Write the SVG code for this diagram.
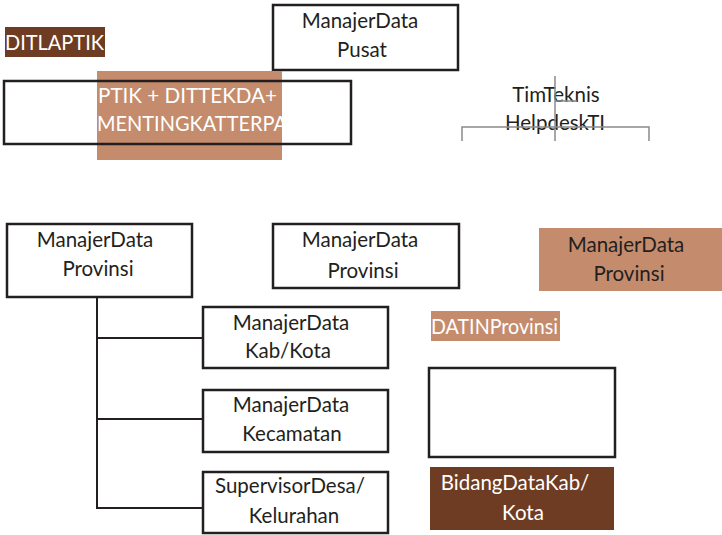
<svg xmlns="http://www.w3.org/2000/svg" width="722" height="535" viewBox="0 0 722 535">
<style>
.t{font-family:Lato,"Open Sans","DejaVu Sans",sans-serif;font-size:20.5px;fill:#231F20;text-anchor:middle}
.w{fill:#FFFFFF}
.box{fill:#FFFFFF;stroke:#231F20;stroke-width:2.5}
.tan{fill:#C48C6C}
.brown{fill:#6E3C22}
.conn{fill:none;stroke:#231F20;stroke-width:2}
.grey{fill:none;stroke:#8A8A8A;stroke-width:1.5}
</style>
<defs>
<clipPath id="tanclip"><rect x="97" y="71" width="185" height="89"/></clipPath>
</defs>
<rect width="722" height="535" fill="#FFFFFF"/>
<g id="ditlaptik">
<rect class="brown" x="5" y="27" width="100" height="30"/>
<text class="t w" x="5" y="50" style="text-anchor:start" textLength="99" lengthAdjust="spacingAndGlyphs">DITLAPTIK</text>
</g>
<g id="pusat">
<rect class="box" x="273" y="5" width="185" height="65"/>
<text class="t" x="360" y="28">ManajerData</text>
<text class="t" x="362" y="57">Pusat</text>
</g>
<g id="gabungan">
<rect class="tan" x="97" y="71" width="185" height="89"/>
<rect class="box" x="4" y="81" width="347" height="63" style="fill:none"/>
<g clip-path="url(#tanclip)">
<text class="t w" x="98" y="103" style="text-anchor:start" textLength="179" lengthAdjust="spacingAndGlyphs">PTIK + DITTEKDA+</text>
<text class="t w" x="97" y="131" style="text-anchor:start" textLength="190" lengthAdjust="spacingAndGlyphs">MENTINGKATTERPA</text>
</g>
</g>
<g id="timteknis">
<text class="t" x="556" y="102">TimTeknis</text>
<text class="t" x="555" y="130">HelpdeskTI</text>
<path class="grey" d="M555,76 V141 M462,141 V127 H649 V141 M555,101 H577"/>
</g>
<g id="connectors">
<path class="conn" d="M97,297 V508 H203 M97,338 H203 M97,419 H203"/>
</g>
<g id="provinsi1">
<rect class="box" x="7" y="224" width="185" height="73"/>
<text class="t" x="95" y="247">ManajerData</text>
<text class="t" x="98" y="276">Provinsi</text>
</g>
<g id="provinsi2">
<rect class="box" x="273" y="224" width="186" height="64"/>
<text class="t" x="360" y="247">ManajerData</text>
<text class="t" x="363" y="278">Provinsi</text>
</g>
<g id="provinsi3">
<rect class="tan" x="539" y="228" width="183" height="63"/>
<text class="t" x="626" y="252">ManajerData</text>
<text class="t" x="629" y="281">Provinsi</text>
</g>
<g id="kabkota">
<rect class="box" x="203" y="307" width="185" height="61"/>
<text class="t" x="291" y="330">ManajerData</text>
<text class="t" x="288" y="358">Kab/Kota</text>
</g>
<g id="kecamatan">
<rect class="box" x="203" y="390" width="185" height="62"/>
<text class="t" x="291" y="412">ManajerData</text>
<text class="t" x="292" y="441">Kecamatan</text>
</g>
<g id="supervisor">
<rect class="box" x="203" y="472" width="185" height="61"/>
<text class="t" x="290" y="493">SupervisorDesa/</text>
<text class="t" x="294" y="523">Kelurahan</text>
</g>
<g id="datin">
<rect class="tan" x="431" y="311" width="129" height="30"/>
<text class="t w" x="431" y="334" style="text-anchor:start" textLength="127" lengthAdjust="spacingAndGlyphs">DATINProvinsi</text>
</g>
<g id="kosong">
<rect class="box" x="429" y="368" width="186" height="89"/>
</g>
<g id="bidang">
<rect class="brown" x="430" y="467" width="184" height="63"/>
<text class="t w" x="515" y="490">BidangDataKab/</text>
<text class="t w" x="523" y="520">Kota</text>
</g>
</svg>
